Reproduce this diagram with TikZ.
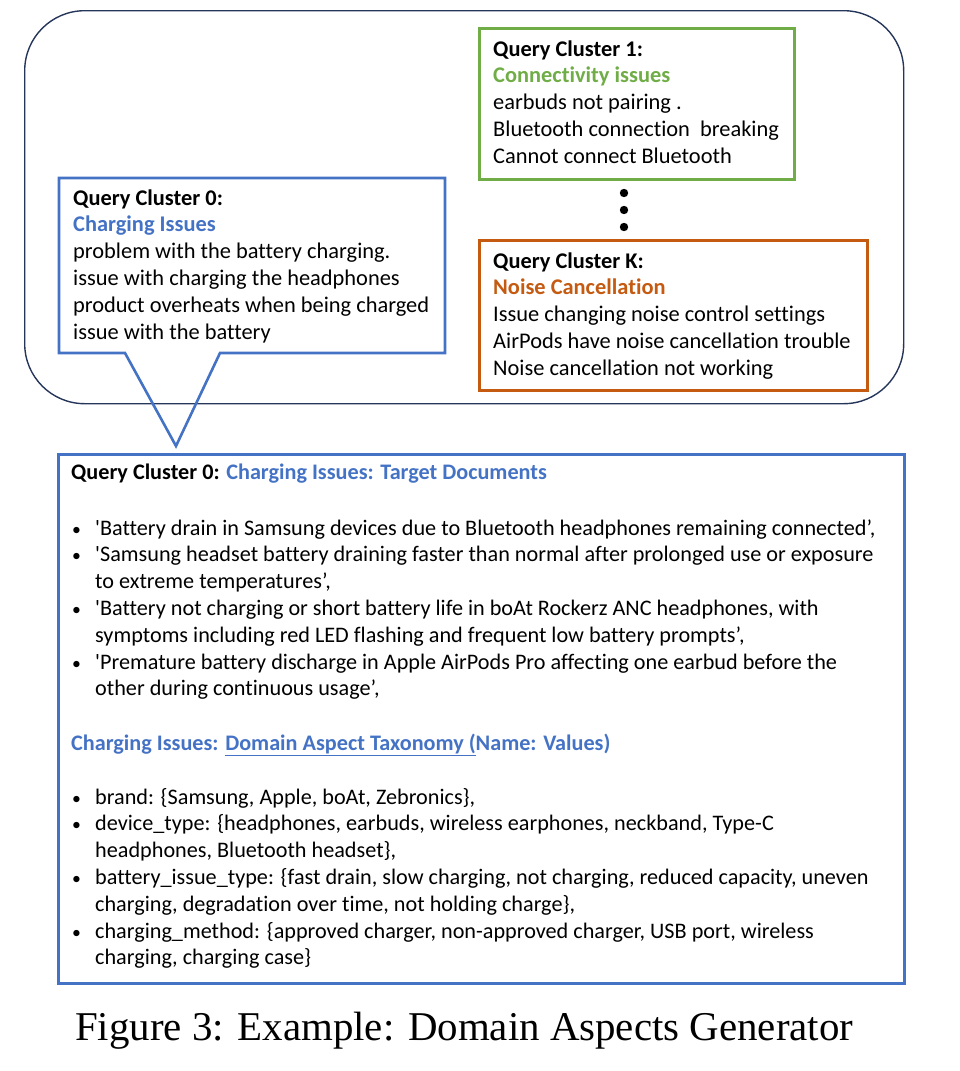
\documentclass[tikz,border=0pt]{standalone}
\usepackage{fontspec}
\setmainfont{Carlito}[Ligatures={TeXOff,CommonOff}]
\newfontfamily\capfont{Liberation Serif}
\definecolor{cblue}{HTML}{4472C4}
\definecolor{cgreen}{HTML}{70AD47}
\definecolor{corange}{HTML}{C55A11}
\definecolor{cnavy}{HTML}{26355A}
\newcommand{\bigtxt}{\fontsize{22.4}{26.8}\selectfont}
\newcommand{\smtxt}{\fontsize{22.2}{26.8}\selectfont}
\newcommand{\bul}{\makebox[24pt][l]{\hspace{1pt}\scalebox{0.8}{•}}}
\newcommand{\ind}{\hspace*{24pt}}
\begin{document}
\begin{tikzpicture}[x=1pt,y=-1pt,
  boxline/.style={line width=2.6pt},
  txt/.style={anchor=base west, inner sep=0pt, align=left}]
\useasboundingbox (0,0) rectangle (960,1071);
% outer rounded frame
\node[draw=cnavy, line width=1.4pt, rounded corners=60pt, minimum width=879pt, minimum height=393pt, anchor=north west, inner sep=0pt] (outer) at (24,10) {};
% cluster 1 box
\node[draw=cgreen, boxline, minimum width=315pt, minimum height=151pt, anchor=north west, inner sep=0pt] (c1box) at (478,27) {};
\node[txt] (c1txt) at (493,56) {\bigtxt\begin{tabular}[t]{@{}l@{}}
\textbf{Query Cluster 1:}\\
\textcolor{cgreen}{\textbf{Connectivity issues}}\\
earbuds not pairing .\\
Bluetooth connection\ \ breaking\\
Cannot connect Bluetooth
\end{tabular}};
% dots
\fill[black] (624,193) circle (4.2pt) coordinate (d1);
\fill[black] (624,210) circle (4.2pt) coordinate (d2);
\fill[black] (624,227) circle (4.2pt) coordinate (d3);
% cluster K box
\node[draw=corange, boxline, minimum width=388pt, minimum height=150pt, anchor=north west, inner sep=0pt] (ckbox) at (478,239) {};
\node[txt] (cktxt) at (493,268) {\bigtxt\begin{tabular}[t]{@{}l@{}}
\textbf{Query Cluster K:}\\
\textcolor{corange}{\textbf{Noise Cancellation}}\\
Issue changing noise control settings\\
AirPods have noise cancellation trouble\\
Noise cancellation not working
\end{tabular}};
% cluster 0 callout
\coordinate (t1) at (125,353);
\coordinate (t2) at (220,353);
\coordinate (tip) at (176,446);
\draw[cblue, boxline, line join=miter] (t1) -- (59,353) -- (59,178) -- (445,178) -- (445,353) -- (t2) -- (tip) -- cycle;
\node[txt] (c0txt) at (73,205) {\bigtxt\begin{tabular}[t]{@{}l@{}}
\textbf{Query Cluster 0:}\\
\textcolor{cblue}{\textbf{Charging Issues}}\\
problem with the battery charging.\\
issue with charging the headphones\\
product overheats when being charged\\
issue with the battery
\end{tabular}};
% bottom box
\node[draw=cblue, boxline, minimum width=846pt, minimum height=529pt, anchor=north west, inner sep=0pt] (docbox) at (57,453) {};
\node[txt] (dochead) at (71,479) {\smtxt\textbf{Query Cluster 0: \textcolor{cblue}{Charging Issues: Target Documents}}};
\node[txt] (doclist) at (71,535) {\smtxt\begin{tabular}[t]{@{}l@{}}
\bul'Battery drain in Samsung devices due to Bluetooth headphones remaining connected’,\\
\bul'Samsung headset battery draining faster than normal after prolonged use or exposure\\
\ind to extreme temperatures’,\\
\bul'Battery not charging or short battery life in boAt Rockerz ANC headphones, with\\
\ind symptoms including red LED flashing and frequent low battery prompts’,\\
\bul'Premature battery discharge in Apple AirPods Pro affecting one earbud before the\\
\ind other during continuous usage’,
\end{tabular}};
\node[txt] (taxhead) at (71,750) {\smtxt\textbf{\textcolor{cblue}{Charging Issues: \underline{Domain Aspect Taxonomy (}Name: Values)}}};
\node[txt] (taxlist) at (71,804) {\smtxt\begin{tabular}[t]{@{}l@{}}
\bul brand: \{Samsung, Apple, boAt, Zebronics\},\\
\bul device\_type: \{headphones, earbuds, wireless earphones, neckband, Type-C\\
\ind headphones, Bluetooth headset\},\\
\bul battery\_issue\_type: \{fast drain, slow charging, not charging, reduced capacity, uneven\\
\ind charging, degradation over time, not holding charge\},\\
\bul charging\_method: \{approved charger, non-approved charger, USB port, wireless\\
\ind charging, charging case\}
\end{tabular}};
% caption
\node[txt] (caption) at (75,1040) {\capfont\fontsize{40.9}{48}\selectfont Figure 3: Example: Domain Aspects Generator};
\end{tikzpicture}
\end{document}
